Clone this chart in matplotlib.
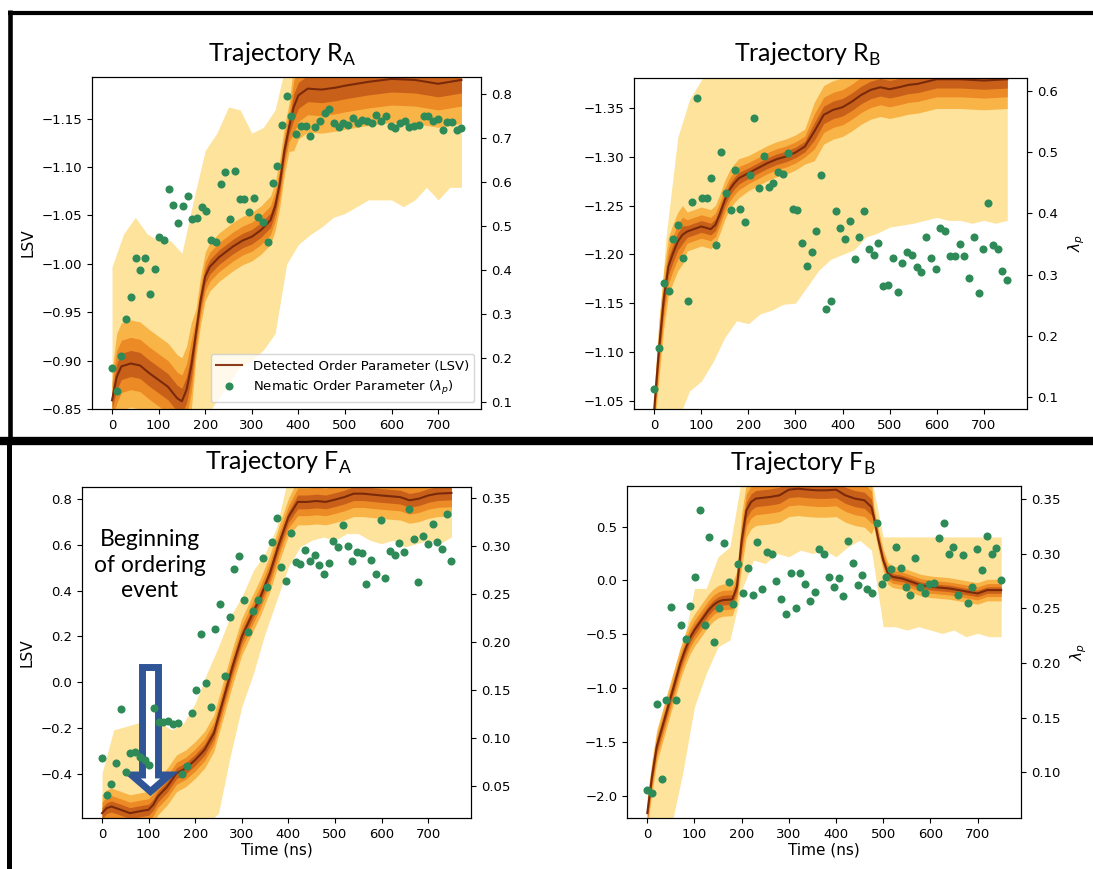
import matplotlib
matplotlib.use("Agg")
import matplotlib.pyplot as plt
from matplotlib.lines import Line2D
from matplotlib.patches import Polygon
import numpy as np

W, H = 1093, 869

# ---- nematic order parameter (green dots, right axis), evenly spaced 0..750 ns ----
ra_dots = [0.177, 0.125, 0.203, 0.287, 0.337, 0.427, 0.399, 0.427, 0.344, 0.402,
           0.474, 0.467, 0.584, 0.548, 0.506, 0.545, 0.567, 0.515, 0.518, 0.543,
           0.534, 0.467, 0.462, 0.595, 0.621, 0.515, 0.625, 0.561, 0.561, 0.530,
           0.564, 0.519, 0.508, 0.464, 0.598, 0.635, 0.729, 0.795, 0.749, 0.708,
           0.727, 0.727, 0.705, 0.724, 0.737, 0.756, 0.766, 0.734, 0.724, 0.734,
           0.730, 0.745, 0.734, 0.740, 0.739, 0.733, 0.752, 0.739, 0.749, 0.727,
           0.721, 0.734, 0.739, 0.724, 0.726, 0.729, 0.749, 0.749, 0.739, 0.743,
           0.718, 0.736, 0.736, 0.717, 0.721]
rb_dots = [0.114, 0.181, 0.287, 0.274, 0.358, 0.381, 0.327, 0.258, 0.418, 0.589,
           0.426, 0.426, 0.458, 0.348, 0.501, 0.433, 0.405, 0.471, 0.407, 0.386,
           0.463, 0.556, 0.441, 0.494, 0.443, 0.449, 0.468, 0.464, 0.498, 0.408,
           0.406, 0.352, 0.314, 0.337, 0.371, 0.463, 0.244, 0.257, 0.404, 0.377,
           0.359, 0.387, 0.326, 0.362, 0.404, 0.342, 0.332, 0.351, 0.282, 0.284,
           0.327, 0.272, 0.320, 0.337, 0.332, 0.312, 0.305, 0.361, 0.328, 0.310,
           0.376, 0.371, 0.331, 0.331, 0.350, 0.331, 0.294, 0.362, 0.271, 0.342,
           0.417, 0.348, 0.342, 0.306, 0.291]
fa_dots = [0.080, 0.041, 0.052, 0.074, 0.130, 0.065, 0.085, 0.086, 0.081, 0.077,
           0.072, 0.131, 0.117, 0.117, 0.118, 0.115, 0.116, 0.063, 0.071, 0.126,
           0.150, 0.208, 0.157, 0.132, 0.213, 0.239, 0.165, 0.226, 0.276, 0.289,
           0.244, 0.210, 0.232, 0.244, 0.287, 0.257, 0.304, 0.329, 0.278, 0.263,
           0.313, 0.283, 0.281, 0.296, 0.284, 0.290, 0.280, 0.271, 0.282, 0.305,
           0.299, 0.322, 0.300, 0.284, 0.294, 0.292, 0.260, 0.285, 0.271, 0.327,
           0.266, 0.295, 0.290, 0.303, 0.293, 0.338, 0.307, 0.262, 0.310, 0.302,
           0.323, 0.304, 0.297, 0.333, 0.284]
fb_dots = [0.084, 0.081, 0.163, 0.094, 0.166, 0.251, 0.166, 0.235, 0.222, 0.252,
           0.279, 0.340, 0.235, 0.315, 0.219, 0.250, 0.310, 0.274, 0.254, 0.291,
           0.264, 0.287, 0.262, 0.311, 0.268, 0.302, 0.300, 0.275, 0.259, 0.245,
           0.282, 0.250, 0.282, 0.272, 0.257, 0.265, 0.304, 0.300, 0.279, 0.270,
           0.278, 0.261, 0.312, 0.292, 0.271, 0.281, 0.268, 0.264, 0.328, 0.272,
           0.279, 0.286, 0.306, 0.287, 0.270, 0.262, 0.296, 0.270, 0.264, 0.272,
           0.273, 0.314, 0.328, 0.300, 0.306, 0.262, 0.299, 0.255, 0.270, 0.304,
           0.285, 0.316, 0.300, 0.305, 0.276]

# ---- detected order parameter (LSV, left axis) ----
ra_line_t = [0, 10, 20, 40, 60, 80, 100, 120, 140, 150, 160, 170, 180, 190, 200, 210, 230, 260, 280,
             300, 320, 340, 350, 360, 370, 380, 390, 400, 420, 450, 480, 500, 550, 600, 650, 700, 750]
ra_line_v = [-0.859, -0.883, -0.894, -0.897, -0.895, -0.887, -0.880, -0.873, -0.861, -0.858, -0.870,
             -0.894, -0.928, -0.962, -0.987, -0.997, -1.007, -1.018, -1.024, -1.028, -1.035, -1.045,
             -1.059, -1.083, -1.117, -1.141, -1.162, -1.174, -1.181, -1.180, -1.182, -1.184, -1.188,
             -1.191, -1.190, -1.186, -1.190]
ra_spread = [0.03] + [0.045] * 11 + [0.025] * 14 + [0.045] * 11

rb_line_t = [0, 10, 20, 30, 40, 50, 60, 70, 80, 100, 120, 130, 140, 150, 160, 170, 180, 200, 220, 240,
             260, 280, 300, 320, 340, 360, 380, 400, 420, 440, 460, 480, 500, 520, 540, 560, 580, 600,
             650, 700, 750]
rb_line_v = [-1.0415, -1.1023, -1.1535, -1.1877, -1.2014, -1.2133, -1.2202, -1.2236, -1.2253, -1.2287,
             -1.2260, -1.2304, -1.2424, -1.2560, -1.2663, -1.2731, -1.2783, -1.2834, -1.2885, -1.2936,
             -1.2977, -1.3005, -1.3046, -1.3107, -1.3261, -1.3432, -1.3483, -1.3510, -1.3568, -1.3637,
             -1.3688, -1.3715, -1.3695, -1.3715, -1.3739, -1.3750, -1.3774, -1.3797, -1.3797, -1.3784,
             -1.3797]
rb_spread = [0.02] + [0.03] * 6 + [0.02] * 10 + [0.018] * 7 + [0.03] * 17

fa_line_t = [0, 10, 20, 40, 60, 80, 100, 110, 120, 140, 160, 180, 200, 220, 240, 260, 280, 300, 320,
             340, 360, 380, 400, 420, 440, 460, 480, 500, 520, 540, 560, 600, 640, 660, 680, 700, 720, 750]
fa_line_v = [-0.570, -0.548, -0.541, -0.555, -0.570, -0.562, -0.555, -0.533, -0.497, -0.454, -0.396,
             -0.374, -0.338, -0.294, -0.222, -0.077, 0.068, 0.199, 0.286, 0.372, 0.474, 0.604, 0.720,
             0.786, 0.786, 0.790, 0.786, 0.796, 0.807, 0.822, 0.822, 0.814, 0.807, 0.793, 0.800, 0.814,
             0.822, 0.825]
fa_spread = [0.08] * 23 + [0.1] * 15

fb_line_t = [0, 10, 20, 30, 40, 50, 60, 70, 80, 90, 100, 110, 120, 130, 140, 150, 160, 180, 190, 200,
             210, 220, 230, 260, 280, 300, 320, 340, 360, 380, 400, 420, 440, 460, 475, 480, 490, 500,
             510, 520, 540, 560, 580, 600, 640, 660, 680, 700, 720, 750]
fb_line_v = [-2.161, -1.821, -1.543, -1.388, -1.234, -1.079, -0.925, -0.770, -0.646, -0.538, -0.461,
             -0.399, -0.337, -0.276, -0.229, -0.198, -0.183, -0.177, -0.059, 0.373, 0.651, 0.729, 0.760,
             0.775, 0.790, 0.843, 0.852, 0.843, 0.837, 0.837, 0.843, 0.790, 0.760, 0.744, 0.682, 0.590,
             0.373, 0.188, 0.064, 0.033, 0.018, -0.013, -0.044, -0.059, -0.075, -0.090, -0.106, -0.121,
             -0.090, -0.090]
fb_spread = [0.15] * 19 + [0.25] * 16 + [0.1] * 15

# ---- outer (light) LSV envelope, every 25 ns ----
band_t = list(range(0, 751, 25))
ra_band_top = [-0.997, -1.031, -1.048, -1.031, -1.024, -1.024, -1.011, -1.066, -1.117, -1.135, -1.162,
               -1.159, -1.135, -1.141, -1.159] + [-1.21] * 16
ra_band_bot = [-0.84] * 9 + [-0.859, -0.876, -0.894, -0.900, -0.911, -0.928,
                             -1.000, -1.020, -1.030, -1.038, -1.048, -1.052, -1.059, -1.066, -1.066,
                             -1.066, -1.059, -1.066, -1.079, -1.066, -1.079, -1.079]
rb_band_top = [-1.06, -1.218, -1.320, -1.359, -1.379] + [-1.40] * 26
rb_band_bot = [-1.03, -1.03, -1.03, -1.06, -1.07, -1.09, -1.115, -1.132, -1.129, -1.139, -1.143,
               -1.149, -1.150, -1.167, -1.184, -1.195, -1.200, -1.205, -1.218, -1.222, -1.228, -1.230,
               -1.232, -1.235, -1.238, -1.235, -1.235, -1.232, -1.235, -1.232, -1.235]
fa_band_top = [-0.396, -0.207, -0.193, -0.178, -0.164, -0.178, -0.207, -0.178, -0.091, 0.039, 0.155,
               0.286, 0.372, 0.488, 0.561, 0.677] + [0.9] * 15
fa_band_bot = [-0.62] * 10 + [-0.57, -0.323, -0.106, 0.039, 0.213, 0.358,
                              0.503, 0.590, 0.619, 0.633, 0.619, 0.648, 0.648, 0.619, 0.604, 0.619,
                              0.590, 0.604, 0.619, 0.604, 0.633]
fb_band_top = [-2.04, -1.42, -0.986, -0.616, -0.074, -0.074, 0.219, 0.311] + [0.95] * 12 + [0.404] * 11
fb_band_bot = [-2.3, -2.3, -2.3, -1.79, -1.172, -0.863, -0.616, -0.554, -0.09, 0.188, 0.157, 0.25,
               0.219, 0.281, 0.25, 0.281, 0.219, 0.311, 0.373, 0.281, -0.43, -0.43, -0.461, -0.43,
               -0.461, -0.492, -0.461, -0.523, -0.492, -0.523, -0.523]

LIGHT = '#fde39c'
SHADES = [(1.0, '#f9b448'), (0.6, '#ec8a25'), (0.3, '#c9601a')]
LINE_C = '#7a2a0a'
DOT_C = '#2e8b57'

plt.rcParams['font.size'] = 9.5
plt.rcParams['xtick.labelsize'] = 9.5
plt.rcParams['ytick.labelsize'] = 9.5

fig = plt.figure(figsize=(W / 100, H / 100), dpi=100)


def box(l, t, r, b):
    return [l / W, 1 - b / H, (r - l) / W, (b - t) / H]


def panel(rect, dots, lt, lv, sp, btop, bbot, ylim, yticks, y2lim, y2ticks,
          xlabel=False, left_label=False, right_label=False):
    ax = fig.add_axes(rect)
    ax.fill_between(band_t, btop, bbot, color=LIGHT, lw=0)
    lt = np.array(lt)
    lv = np.array(lv)
    sp = np.array(sp)
    for f, c in SHADES:
        ax.fill_between(lt, lv - f * sp, lv + f * sp, color=c, lw=0)
    ax.plot(lt, lv, color=LINE_C, lw=1.5)
    ax.set_xlim(-43, 792)
    ax.set_ylim(*ylim)
    ax.set_yticks(yticks)
    ax.set_xticks(range(0, 701, 100))
    if xlabel:
        ax.set_xlabel('Time (ns)', fontsize=11, labelpad=1)
    if left_label:
        ax.set_ylabel('LSV', fontsize=11)
    ax2 = ax.twinx()
    ax2.plot(np.linspace(0, 750, len(dots)), dots, 'o', color=DOT_C, ms=5.8, mec='none')
    ax2.set_ylim(*y2lim)
    ax2.set_yticks(y2ticks)
    if right_label:
        ax2.set_ylabel(r'$\lambda_p$', fontsize=11, labelpad=6)
    return ax, ax2


ax_ra, ax2_ra = panel(box(92, 77, 481, 409), ra_dots, ra_line_t, ra_line_v, ra_spread,
                      ra_band_top, ra_band_bot, (-0.85, -1.193),
                      np.round(np.arange(-1.15, -0.849, 0.05), 2),
                      (0.0833, 0.838), np.round(np.arange(0.1, 0.81, 0.1), 1), left_label=True)
ax_rb, ax2_rb = panel(box(634, 78, 1027, 409), rb_dots, rb_line_t, rb_line_v, rb_spread,
                      rb_band_top, rb_band_bot, (-1.0415, -1.381),
                      np.round(np.arange(-1.35, -1.049, 0.05), 2),
                      (0.081, 0.621), np.round(np.arange(0.1, 0.61, 0.1), 1), right_label=True)
ax_fa, ax2_fa = panel(box(82, 487, 471, 818), fa_dots, fa_line_t, fa_line_v, fa_spread,
                      fa_band_top, fa_band_bot, (-0.591, 0.851),
                      np.round(np.arange(-0.4, 0.81, 0.2), 1),
                      (0.0172, 0.361), np.round(np.arange(0.05, 0.351, 0.05), 2),
                      xlabel=True, left_label=True)
ax_fb, ax2_fb = panel(box(627, 486, 1021, 818), fb_dots, fb_line_t, fb_line_v, fb_spread,
                      fb_band_top, fb_band_bot, (-2.207, 0.877),
                      np.round(np.arange(-2.0, 0.51, 0.5), 1),
                      (0.0583, 0.362), np.round(np.arange(0.10, 0.351, 0.05), 2),
                      xlabel=True, right_label=True)

handles = [Line2D([], [], color='#8b3a1a', lw=1.5),
           Line2D([], [], marker='o', ls='none', color=DOT_C, ms=5.8, mec='none')]
ax2_ra.legend(handles, ['Detected Order Parameter (LSV)', r'Nematic Order Parameter ($\lambda_p$)'],
              loc='lower right', fontsize=9.5)

# titles
for x, y, s in [(282, 62, r'Trajectory R$_\mathregular{A}$'), (808, 62, r'Trajectory R$_\mathregular{B}$'),
                (279, 470, r'Trajectory F$_\mathregular{A}$'), (803, 471, r'Trajectory F$_\mathregular{B}$')]:
    fig.text(x / W, 1 - y / H, s, ha='center', va='baseline', fontsize=18, family='Lato')

# annotation with hollow arrow
fig.text(150 / W, 1 - 597 / H, 'Beginning\nof ordering\nevent', ha='center', va='baseline',
         multialignment='center', fontsize=16.5, family='Lato', linespacing=1.25)
arrow_px = [(142.5, 667.5), (158.5, 667.5), (158.5, 775), (169.5, 775), (150.5, 791.5),
            (131.5, 775), (142.5, 775)]
ax_fa.add_patch(Polygon([(x / W, 1 - y / H) for x, y in arrow_px], closed=True,
                        transform=fig.transFigure, facecolor='white', edgecolor='#2f5597',
                        lw=5, joinstyle='miter', clip_on=False, zorder=10))

# black frame lines of the composite
for (x0, y0, x1, y1, lw) in [(8, 12.5, W, 12.5, 3), (9.5, 10, 9.5, 441, 3.3),
                             (0, 441, W, 441, 6), (9, 441, 9, H, 3.6)]:
    fig.add_artist(Line2D([x0 / W, x1 / W], [1 - y0 / H, 1 - y1 / H], transform=fig.transFigure,
                          color='black', lw=lw, solid_capstyle='butt'))

fig.savefig('out.png', dpi=100)
